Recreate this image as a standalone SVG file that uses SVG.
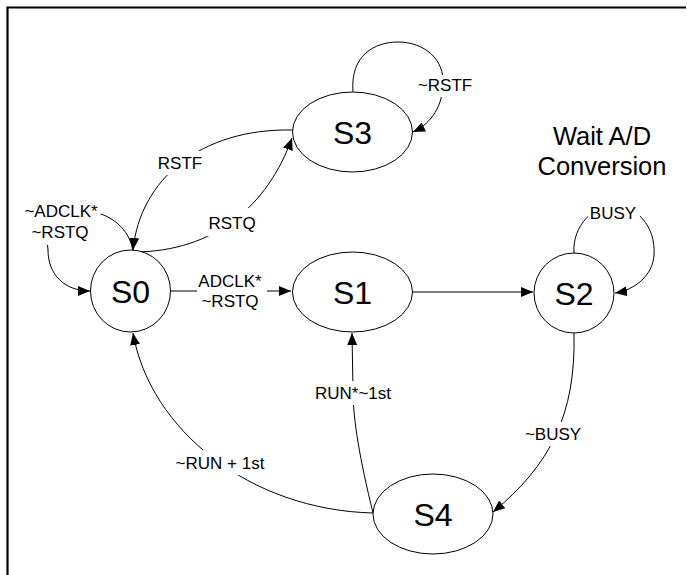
<svg xmlns="http://www.w3.org/2000/svg" width="687" height="575" viewBox="0 0 687 575">
<style>
.node{fill:#fff;stroke:#000;stroke-width:1}
.nl{font-family:"Liberation Sans",Arial,sans-serif;font-size:32px;text-anchor:middle;fill:#000}
.el{fill:none;stroke:#000;stroke-width:1}
.lb{font-family:"Liberation Sans",Arial,sans-serif;font-size:17px;text-anchor:middle;fill:#000}
.bg{fill:#fff;stroke:none}
.note{font-family:"Liberation Sans",Arial,sans-serif;font-size:25.5px;text-anchor:middle;fill:#000}
</style>
<defs>
<marker id="arr" markerUnits="userSpaceOnUse" markerWidth="13" markerHeight="11" refX="12" refY="5" orient="auto">
<path d="M0,0 L12,5 L0,10 z" fill="#000"/>
</marker>
</defs>
<rect width="687" height="575" fill="#fff"/>
<path d="M7.5,575 L7.5,7.5 L686,7.5" fill="none" stroke="#000" stroke-width="2.2"/>
<g id="connectors">
<path class="el" d="M170,291 L291,291" marker-end="url(#arr)"/>
<path class="el" d="M413,292 L533,292" marker-end="url(#arr)"/>
<path class="el" d="M574,253 C572,225 595,205 613,205 C635,205 656,225 654,255 C653,275 635,290 615,293" marker-end="url(#arr)"/>
<path class="el" d="M353,92 C350,55 375,42 398,42 C425,42 445,60 443,85 C442,110 428,125 413,132" marker-end="url(#arr)"/>
<path class="el" d="M293,130 C200,128 140,180 133,250" marker-end="url(#arr)"/>
<path class="el" d="M133,252 C215,252 268,205 292,138" marker-end="url(#arr)"/>
<path class="el" d="M133,251 C125,200 40,195 48,250 C48,275 65,291 90,291" marker-end="url(#arr)"/>
<path class="el" d="M574,333 C576,415 550,465 493,512" marker-end="url(#arr)"/>
<path class="el" d="M373,513 C360,460 353,420 353,390 L352,333" marker-end="url(#arr)"/>
<path class="el" d="M373,513 C250,510 150,430 133,333" marker-end="url(#arr)"/>
<rect class="bg" x="197" y="272" width="70" height="40"/>
<text class="lb" x="230" y="287">ADCLK*</text>
<text class="lb" x="230" y="307">~RSTQ</text>
<rect class="bg" x="588" y="203" width="52" height="20"/>
<text class="lb" x="613" y="219">BUSY</text>
<rect class="bg" x="414" y="75" width="62" height="22"/>
<text class="lb" x="445" y="91">~RSTF</text>
<rect class="bg" x="155" y="151" width="52" height="24"/>
<text class="lb" x="180" y="169">RSTF</text>
<rect class="bg" x="206" y="208" width="52" height="28"/>
<text class="lb" x="232" y="229">RSTQ</text>
<rect class="bg" x="19" y="200" width="82" height="45"/>
<text class="lb" x="61" y="217">~ADCLK*</text>
<text class="lb" x="60" y="238">~RSTQ</text>
<rect class="bg" x="522" y="422" width="64" height="24"/>
<text class="lb" x="553" y="440">~BUSY</text>
<rect class="bg" x="310" y="381" width="86" height="24"/>
<text class="lb" x="353" y="399">RUN*~1st</text>
<rect class="bg" x="170" y="450" width="100" height="25"/>
<text class="lb" x="220" y="469">~RUN + 1st</text>
</g>
<g id="S0"><ellipse class="node" cx="130.5" cy="291" rx="40" ry="41"/><text class="nl" x="130.5" y="302.5">S0</text></g>
<g id="S1"><ellipse class="node" cx="352.5" cy="292" rx="60" ry="40"/><text class="nl" x="352.5" y="303.5">S1</text></g>
<g id="S2"><ellipse class="node" cx="574" cy="293" rx="40" ry="40"/><text class="nl" x="574" y="304.5">S2</text></g>
<g id="S3"><ellipse class="node" cx="352.5" cy="132" rx="60" ry="40"/><text class="nl" x="352.5" y="143.5">S3</text></g>
<g id="S4"><ellipse class="node" cx="433" cy="514" rx="60" ry="40"/><text class="nl" x="433" y="525.5">S4</text></g>
<g id="note"><text class="note" x="602" y="145">Wait A/D</text><text class="note" x="602" y="175">Conversion</text></g>
</svg>
